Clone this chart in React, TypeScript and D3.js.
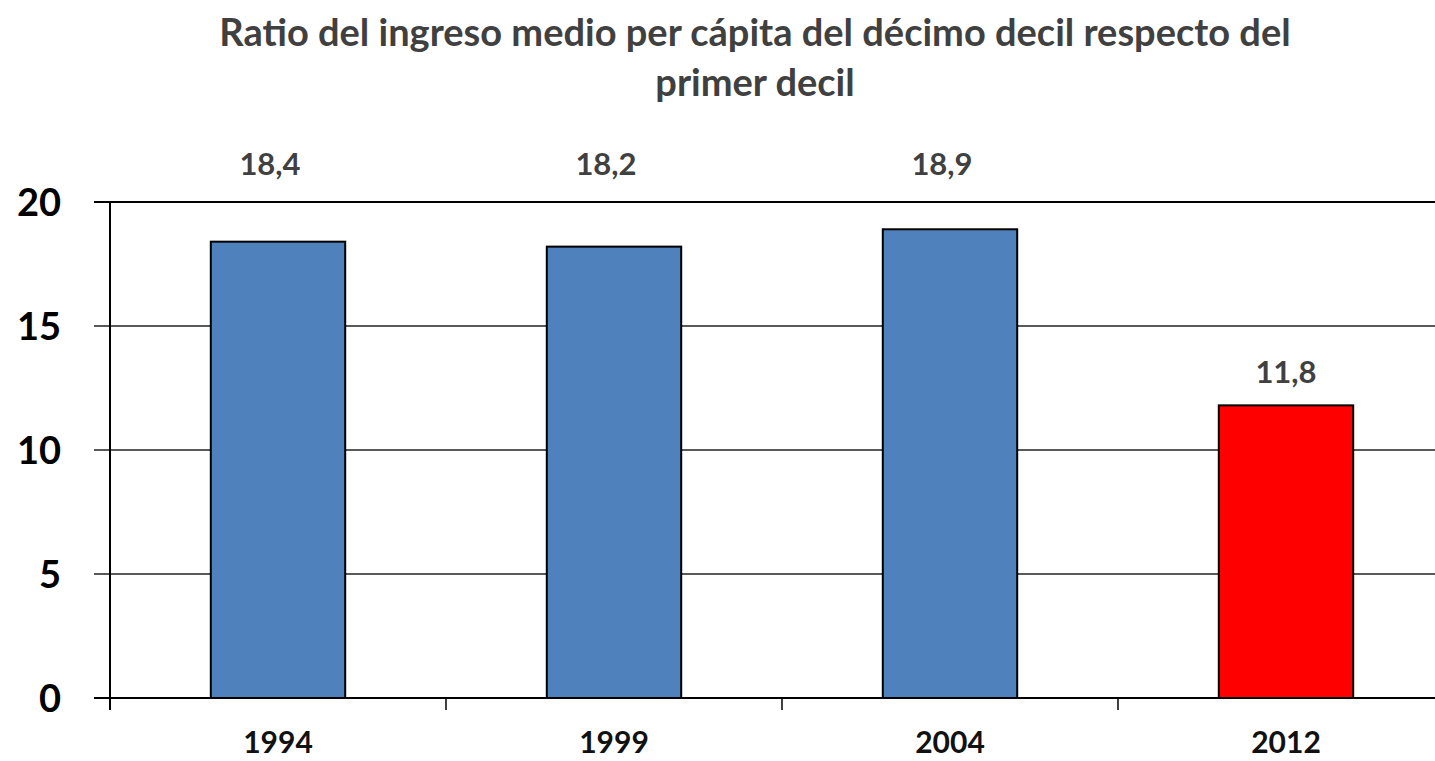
import React from "react";
import * as d3 from "d3";

const categories = ["1994", "1999", "2004", "2012"];
const values = [18.4, 18.2, 18.9, 11.8];
const valueLabels = ["18,4", "18,2", "18,9", "11,8"];
const barColors = ["#4F81BD", "#4F81BD", "#4F81BD", "#FF0000"];
const yTicks = [0, 5, 10, 15, 20];
const titleLines = [
  "Ratio del ingreso medio per cápita del décimo decil respecto del",
  "primer decil",
];

const W = 1435;
const H = 761;
const FONT = "Lato, 'Open Sans', sans-serif";

export default function App() {
  const left = 110;
  const step = 336;
  const x = d3
    .scaleBand<string>()
    .domain(categories)
    .range([left, left + step * categories.length])
    .paddingInner(0.6)
    .paddingOuter(0.3);
  const y = d3.scaleLinear().domain([0, 20]).range([698, 202]);
  const boundaries = categories.map((_, i) => left + i * x.step());

  return (
    <svg
      width={W}
      height={H}
      style={{ position: "absolute", left: 0, top: 0, background: "#fff" }}
      fontFamily={FONT}
    >
      {titleLines.map((t, i) => (
        <text
          key={i}
          x={755}
          y={46 + i * 50}
          textAnchor="middle"
          fontSize={38}
          fontWeight={700}
          fill="#404040"
        >
          {t}
        </text>
      ))}
      {yTicks.map((t) => (
        <g key={t}>
          <line
            x1={94}
            x2={W}
            y1={y(t)}
            y2={y(t)}
            stroke={t === 20 || t === 0 ? "#000" : "#222"}
            strokeWidth={t === 20 || t === 0 ? 2 : 1.3}
          />
          <text
            x={61}
            y={y(t)}
            dy="0.36em"
            textAnchor="end"
            fontSize={38}
            fontWeight={700}
            fill="#000"
          >
            {t}
          </text>
        </g>
      ))}
      <line x1={left} x2={left} y1={y(20)} y2={710} stroke="#000" strokeWidth={2} />
      {boundaries.map((b, i) => (
        <line key={i} x1={b} x2={b} y1={y(0)} y2={710} stroke="#000" strokeWidth={1.5} />
      ))}
      {categories.map((c, i) => (
        <g key={c}>
          <rect
            x={x(c)!}
            y={y(values[i])}
            width={x.bandwidth()}
            height={y(0) - y(values[i])}
            fill={barColors[i]}
            stroke="#000"
            strokeWidth={2}
          />
          <text
            x={x(c)! + x.bandwidth() / 2 - (values[i] > 15 ? 8 : 0)}
            y={values[i] > 15 ? y(20) - 27 : y(values[i]) - 22}
            textAnchor="middle"
            fontSize={31}
            fontWeight={700}
            fill="#404040"
          >
            {valueLabels[i]}
          </text>
          <text
            x={x(c)! + x.bandwidth() / 2}
            y={753}
            textAnchor="middle"
            fontSize={30}
            fontWeight={700}
            fill="#111"
          >
            {c}
          </text>
        </g>
      ))}
    </svg>
  );
}
